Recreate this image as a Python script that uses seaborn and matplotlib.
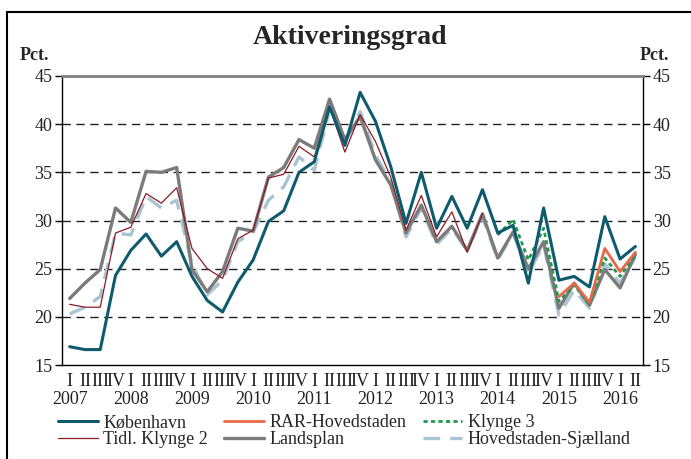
import numpy as np
import pandas as pd
import matplotlib
matplotlib.use("Agg")
import matplotlib.pyplot as plt
import seaborn as sns
from matplotlib.lines import Line2D

# Quarterly data 2007 Q1 - 2016 Q2
years = list(range(2007, 2017))
quarters = ["I", "II", "III", "IV"]

koebenhavn = [16.9, 16.6, 16.6, 24.3, 26.9, 28.6, 26.3, 27.8, 24.2, 21.7,
              20.5, 23.6, 25.9, 29.9, 31.0, 35.0, 36.1, 41.8, 37.8, 43.3,
              40.3, 35.6, 29.7, 35.0, 29.2, 32.5, 29.2, 33.2, 28.7, 29.5,
              23.5, 31.3, 23.8, 24.2, 23.1, 30.4, 26.0, 27.3]
landsplan = [21.9, 23.5, 24.9, 31.3, 29.8, 35.1, 35.0, 35.5, 24.9, 22.6,
             24.7, 29.2, 28.9, 34.5, 35.5, 38.4, 37.5, 42.6, 38.4, 40.8,
             36.3, 33.7, 28.7, 31.6, 27.8, 29.4, 26.9, 30.7, 26.1, 28.8,
             25.0, 27.8, 20.9, 23.5, 21.2, 24.9, 23.0, 26.5]
tidl_klynge2 = [21.3, 21.0, 21.0, 28.7, 29.3, 32.8, 31.8, 33.4, 27.1, 25.0,
                24.0, 28.1, 29.0, 34.4, 34.8, 37.7, 36.6, 41.8, 37.1, 41.0,
                38.2, 34.5, 29.0, 32.6, 28.3, 30.9, 26.7, 30.7] + [np.nan] * 10
hovedst_sjaelland = [20.3, 21.0, 22.1, 28.7, 28.5, 32.5, 31.3, 32.1, 25.5, 22.3,
                     23.8, 27.8, 28.8, 32.1, 33.5, 36.6, 35.2, 41.5, 38.0, 41.3,
                     36.8, 34.0, 28.3, 31.3, 27.5, 29.2, 26.9, 30.4, 25.9, 28.7,
                     24.5, 27.5, 20.2, 22.8, 20.9, 25.5, 23.5, 26.2]
klynge3 = [np.nan] * 28 + [28.5, 30.1, 25.9, 29.2, 21.6, 23.3, 21.3, 26.1, 24.2, 26.4]
rar_hovedstaden = [np.nan] * 32 + [22.1, 23.5, 21.5, 27.1, 24.7, 26.7]

n = len(koebenhavn)
tick_labels = []
for i in range(n):
    q = quarters[i % 4]
    tick_labels.append(q + "\n" + str(years[i // 4]) if i % 4 == 0 else q)

sns.set_theme(style="white")
plt.rcParams["font.family"] = ["Liberation Serif", "DejaVu Serif"]

fig = plt.figure(figsize=(6.91, 4.59), dpi=100)
ax = fig.add_axes([62 / 691, 1 - 365 / 459, (643 - 62) / 691, (365 - 76) / 459])

x = np.arange(n)
series = [
    ("Hovedstaden-Sjælland", hovedst_sjaelland, "#a9c4d3", 2.4, (0, (5, 3))),
    ("Landsplan", landsplan, "#7b7b7b", 2.4, "-"),
    ("Tidl. Klynge 2", tidl_klynge2, "#8b1c24", 0.9, "-"),
    ("Klynge 3", klynge3, "#1f9a4e", 2.0, (0, (1.5, 1.2))),
    ("RAR-Hovedstaden", rar_hovedstaden, "#e8694a", 2.0, "-"),
    ("København", koebenhavn, "#0e5b6d", 2.2, "-"),
]
for name, vals, col, lw, ls in series:
    df = pd.DataFrame({"x": x, "y": vals}).dropna()
    sns.lineplot(data=df, x="x", y="y", ax=ax, color=col, linewidth=lw,
                 linestyle=ls, legend=False)

ax.set_xlim(-0.5, n - 0.5)
ax.set_ylim(15, 45)
ax.set_xlabel("")
ax.set_ylabel("")

# y axis, both sides
yt = [15, 20, 25, 30, 35, 40, 45]
ax.set_yticks(yt)
ax.set_yticklabels([str(v) for v in yt])
ax.tick_params(axis="y", which="major", direction="out", length=5, width=1,
               color="black", labelsize=13, labelcolor="#222222",
               left=True, right=True, labelleft=True, labelright=True, pad=2)
for v in [20, 25, 30, 35, 40]:
    ax.axhline(v, color="#222222", lw=1.0, ls=(0, (6, 4)), zorder=0)

# x axis: ticks on boundaries, labels on quarter centres
ax.set_xticks(np.arange(-0.5, n, 1.0))
ax.set_xticklabels([])
ax.set_xticks(x, minor=True)
ax.set_xticklabels(tick_labels, minor=True, linespacing=1.05)
ax.tick_params(axis="x", which="major", direction="out", length=6, width=1,
               color="black")
ax.tick_params(axis="x", which="minor", length=0, labelsize=13,
               labelcolor="#222222", pad=6)

for side in ["left", "right", "bottom"]:
    ax.spines[side].set_color("black")
    ax.spines[side].set_linewidth(1)
ax.spines["top"].set_color("#7f7f7f")
ax.spines["top"].set_linewidth(2)

fig.text(350 / 691, 1 - 37 / 459, "Aktiveringsgrad", ha="center", va="center",
         fontsize=20, fontweight="bold")
fig.text(20 / 691, 1 - 56 / 459, "Pct.", ha="left", va="center",
         fontsize=13, fontweight="bold")
fig.text(640 / 691, 1 - 56 / 459, "Pct.", ha="left", va="center",
         fontsize=13, fontweight="bold")

# legend
styles = {s[0]: s for s in series}
order = ["København", "Tidl. Klynge 2", "RAR-Hovedstaden", "Landsplan",
         "Klynge 3", "Hovedstaden-Sjælland"]
handles = [Line2D([], [], color=styles[k][2], lw=styles[k][3], ls=styles[k][4])
           for k in order]
fig.legend(handles, order, loc="upper left", bbox_to_anchor=(58 / 691, 1 - 414 / 459),
           ncol=3, frameon=False, fontsize=13, handlelength=2.2, handletextpad=0.3,
           columnspacing=0.9, labelspacing=0.0, borderaxespad=0, borderpad=0)

# outer frame (top and left edges)
fig.add_artist(Line2D([7 / 691, 1], [1 - 12 / 459, 1 - 12 / 459],
                      transform=fig.transFigure, color="black", lw=1.5))
fig.add_artist(Line2D([7 / 691, 7 / 691], [0, 1 - 12 / 459],
                      transform=fig.transFigure, color="black", lw=1.5))

fig.savefig("out.png", dpi=100)
